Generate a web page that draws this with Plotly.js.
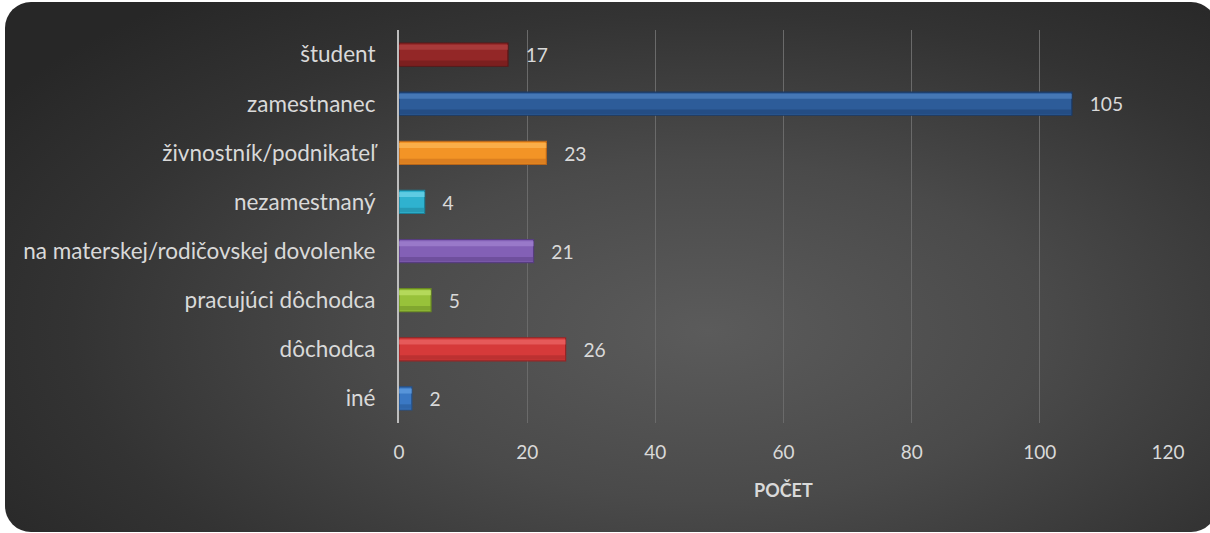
<!DOCTYPE html>
<html>
<head>
<meta charset="utf-8">
<script src="https://cdn.plot.ly/plotly-3.0.1.min.js"></script>
<style>
  html, body { margin: 0; padding: 0; background: #ffffff; }
  #wrap { position: relative; width: 1210px; height: 533px; overflow: hidden; background: #ffffff; }
  #bg { position: absolute; left: 5px; top: 2px; width: 1212px; height: 530px; border-radius: 26px;
        background: radial-gradient(ellipse 70% 80% at 58% 62%, #5b5b5b 0%, #4a4a4a 40%, #333333 75%, #272727 100%); }
  #chart { position: absolute; left: 0; top: 0; width: 1210px; height: 533px; }
</style>
</head>
<body>
<div id="wrap"><div id="bg"></div><div id="chart"></div></div>
<script>
const categories = ["študent", "zamestnanec", "živnostník/podnikateľ", "nezamestnaný",
  "na materskej/rodičovskej dovolenke", "pracujúci dôchodca", "dôchodca", "iné"];
const values = [17, 105, 23, 4, 21, 5, 26, 2];
const barColors = ["#932727", "#2d5c99", "#f39426", "#2fb2cf", "#8360b6", "#98c23a", "#d63a3a", "#3a78c4"];
const edgeColors = ["#5e1616", "#1b3a66", "#b8651a", "#1d7f96", "#573d80", "#6a8a22", "#952424", "#24518a"];
const highlightColors = ["#b54848", "#5588c8", "#ffc060", "#7fdcf0", "#a98ad6", "#c6e870", "#f07070", "#6aa6e8"];
const shadeColors = ["#6a1a1a", "#1e4272", "#c86e1c", "#1f879f", "#5e4288", "#6f9226", "#a82a2a", "#275796"];
const xTicks = [0, 20, 40, 60, 80, 100, 120];
const xTitle = "POČET";

const fontFam = "Lato, 'Open Sans', 'Noto Sans', sans-serif";
const txtColor = "#d9d9d9";

const main = {
  type: "bar", orientation: "h",
  y: categories, x: values,
  width: 0.47,
  marker: { color: barColors, line: { color: edgeColors, width: 1.2 } },
  text: values.map(v => "\u00a0\u00a0\u00a0" + v),
  textposition: "outside",
  cliponaxis: false,
  textfont: { family: fontFam, size: 20, color: txtColor },
  hoverinfo: "x+y",
  showlegend: false
};
const highlight = {
  type: "bar", orientation: "h",
  y: categories, x: values,
  width: 0.1, offset: -0.2,
  marker: { color: highlightColors, opacity: 0.6, line: { width: 0 } },
  hoverinfo: "skip",
  showlegend: false
};
const shade = {
  type: "bar", orientation: "h",
  y: categories, x: values,
  width: 0.09, offset: 0.12,
  marker: { color: shadeColors, opacity: 0.55, line: { width: 0 } },
  hoverinfo: "skip",
  showlegend: false
};

const layout = {
  width: 1210, height: 533,
  paper_bgcolor: "rgba(0,0,0,0)",
  plot_bgcolor: "rgba(0,0,0,0)",
  margin: { l: 399, r: 42, t: 30, b: 110 },
  barmode: "overlay",
  font: { family: fontFam, color: txtColor, size: 20 },
  xaxis: {
    range: [0, 120],
    tickvals: xTicks,
    ticktext: xTicks.map(String),
    showgrid: true, gridcolor: "#6a6a6a", gridwidth: 1,
    zeroline: false, showline: false,
    ticks: "", ticklabelstandoff: 16,
    tickfont: { family: fontFam, size: 19, color: txtColor },
    fixedrange: true
  },
  yaxis: {
    type: "category",
    autorange: "reversed",
    showgrid: false, zeroline: false,
    showline: true, linecolor: "#bdbdbd", linewidth: 2,
    ticks: "", ticklabelstandoff: 17,
    tickfont: { family: fontFam, size: 22.5, color: txtColor },
    fixedrange: true
  },
  annotations: [{
    text: "<b>" + xTitle + "</b>", xref: "paper", yref: "paper",
    x: 0.5, y: -0.170, xanchor: "center", yanchor: "middle",
    showarrow: false, font: { family: fontFam, size: 18, color: txtColor }
  }]
};

Plotly.newPlot("chart", [main, highlight, shade], layout, { displayModeBar: false, staticPlot: true });
</script>
</body>
</html>
